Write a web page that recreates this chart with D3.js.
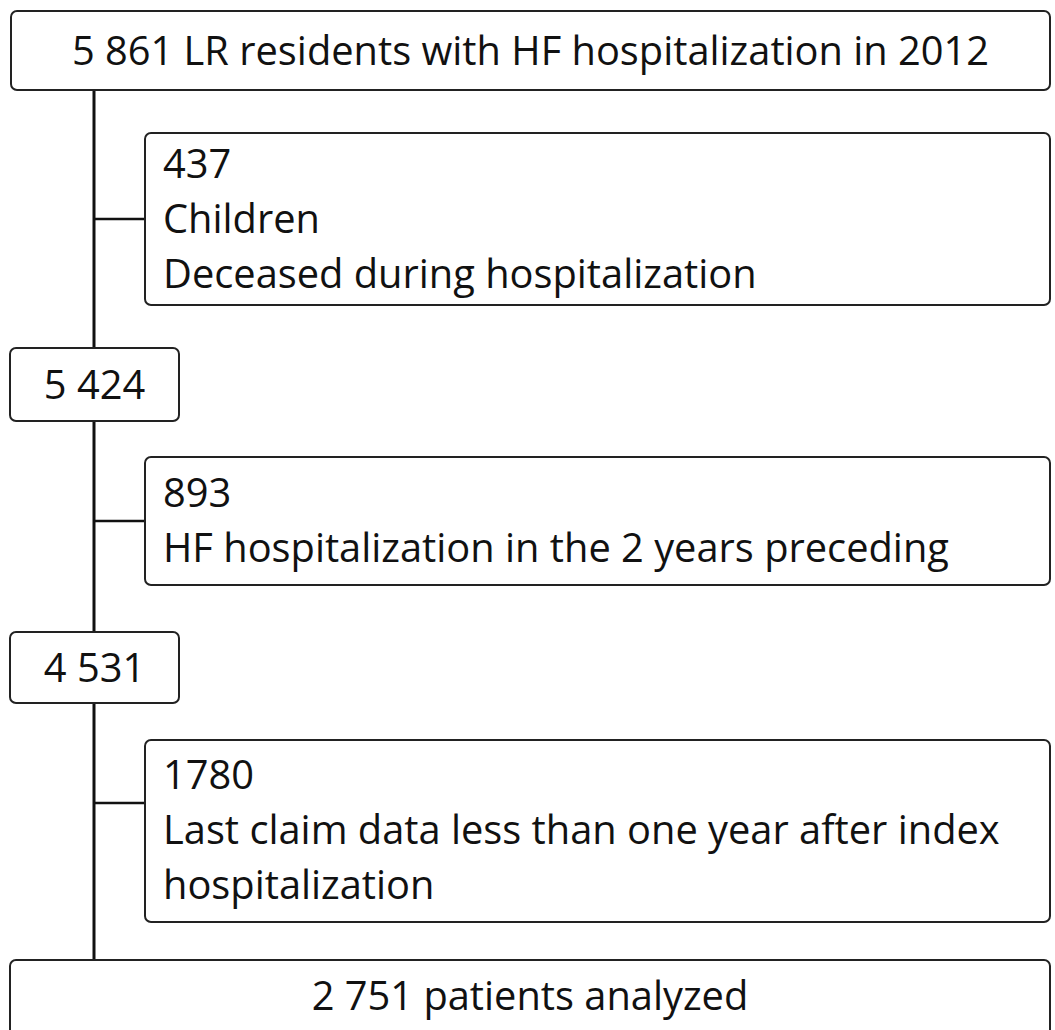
<!DOCTYPE html>
<html>
<head>
<meta charset="utf-8">
<script src="https://cdn.jsdelivr.net/npm/d3@7"></script>
<style>
  html, body { margin: 0; padding: 0; background: #fff; }
  svg { display: block; }
</style>
</head>
<body>
<div id="chart"></div>
<script>
// Main flow (counts remaining at each step)
const mainSteps = ["5 861 LR residents with HF hospitalization in 2012", "5 424", "4 531", "2 751 patients analyzed"];
// Exclusions between steps
const exclusionCounts = ["437", "893", "1780"];
const exclusionReasons = [
  ["Children", "Deceased during hospitalization"],
  ["HF hospitalization in the 2 years preceding"],
  ["Last claim data less than one year after index", "hospitalization"]
];

const width = 1055, height = 1030;
const font = "'Open Sans', Lato, sans-serif";
const fontSize = 39.8;
const lineHeight = 55;

// Box layout (left, top, right, bottom, first baseline)
const mainBoxes = [
  { x0: 11, y0: 11, x1: 1050, y1: 90, base: 65 },
  { x0: 10, y0: 348, x1: 179, y1: 421, base: 399 },
  { x0: 10, y0: 632, x1: 179, y1: 703, base: 682 },
  { x0: 10, y0: 960, x1: 1050, y1: 1060, base: 1010 }
];
const exclBoxes = [
  { x0: 145, y0: 133, x1: 1050, y1: 305, base: 178, link: 219 },
  { x0: 145, y0: 457, x1: 1050, y1: 585, base: 507, link: 521 },
  { x0: 145, y0: 740, x1: 1050, y1: 922, base: 789, link: 803 }
];
const spineX = 94;

const svg = d3.select("#chart").append("svg")
  .attr("width", width)
  .attr("height", height);

// Spine
svg.append("line")
  .attr("x1", spineX).attr("x2", spineX)
  .attr("y1", mainBoxes[0].y1).attr("y2", mainBoxes[3].y0)
  .attr("stroke", "#111").attr("stroke-width", 3);

// Side connectors
svg.selectAll(".link")
  .data(exclBoxes)
  .join("line")
  .attr("class", "link")
  .attr("x1", spineX).attr("x2", d => d.x0)
  .attr("y1", d => d.link).attr("y2", d => d.link)
  .attr("stroke", "#111").attr("stroke-width", 2.5);

const boxStyle = sel => sel
  .attr("rx", 6).attr("ry", 6)
  .attr("fill", "#fff")
  .attr("stroke", "#222")
  .attr("stroke-width", 2);

// Main boxes
const main = svg.selectAll(".main")
  .data(mainSteps.map((t, i) => ({ text: t, ...mainBoxes[i] })))
  .join("g").attr("class", "main");

main.append("rect")
  .attr("x", d => d.x0).attr("y", d => d.y0)
  .attr("width", d => d.x1 - d.x0).attr("height", d => d.y1 - d.y0)
  .call(boxStyle);

main.append("text")
  .attr("x", d => (d.x0 + d.x1) / 2)
  .attr("y", d => d.base)
  .attr("text-anchor", "middle")
  .attr("font-family", font)
  .attr("font-size", fontSize)
  .attr("fill", "#111")
  .text(d => d.text);

// Exclusion boxes
const excl = svg.selectAll(".excl")
  .data(exclusionCounts.map((c, i) => ({ lines: [c, ...exclusionReasons[i]], ...exclBoxes[i] })))
  .join("g").attr("class", "excl");

excl.append("rect")
  .attr("x", d => d.x0).attr("y", d => d.y0)
  .attr("width", d => d.x1 - d.x0).attr("height", d => d.y1 - d.y0)
  .call(boxStyle);

excl.each(function(d) {
  d3.select(this).selectAll("text")
    .data(d.lines)
    .join("text")
    .attr("x", d.x0 + 18)
    .attr("y", (t, i) => d.base + i * lineHeight)
    .attr("font-family", font)
    .attr("font-size", fontSize)
    .attr("fill", "#111")
    .text(t => t);
});
</script>
</body>
</html>
